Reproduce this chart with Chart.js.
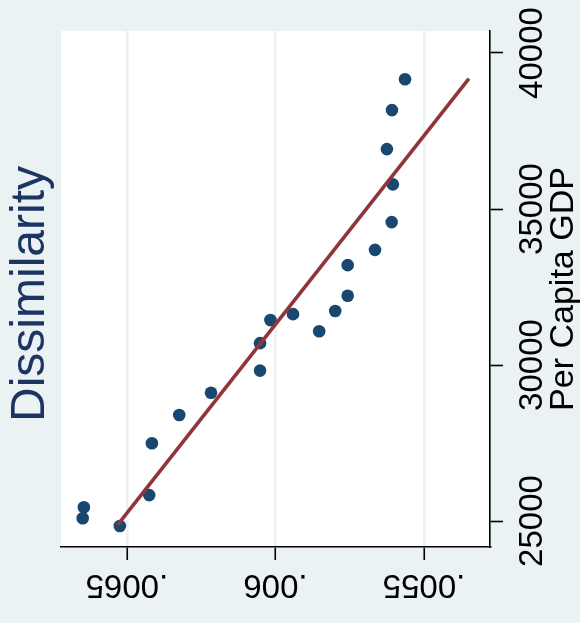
<!DOCTYPE html>
<html>
<head>
<meta charset="utf-8">
<script src="https://cdn.jsdelivr.net/npm/chart.js@4"></script>
<style>
  html, body { margin: 0; padding: 0; background: #eaf2f3; }
  canvas { display: block; }
</style>
</head>
<body>
<canvas id="gdp-chart" width="580" height="623"></canvas>
<script>
// per capita GDP and dissimilarity index, one pair per observation
const gdp = [25440, 25090, 24840, 25830, 27490, 28400, 29110, 29820, 30700, 31440,
  31630, 31080, 31730, 32220, 33200, 33690, 34580, 35790, 36920, 38170, 39160]
const dissimilarity = [.006645, .006649, .006524, .006425, .006416, .006324, .006217, .006052, .006052, .006017,
  .005941, .005853, .005799, .005757, .005757, .005665, .005609, .005605, .005625, .005608, .005564]

// ends of the fitted line
const fitGdp = [24870, 39180]
const fitDissimilarity = [.006532, .005349]

const dissTicks = [.0065, .006, .0055]
const dissTickLabels = ['.0065', '.006', '.0055']
const gdpTicks = [25000, 30000, 35000, 40000]
const gdpTickLabels = ['25000', '30000', '35000', '40000']

const navy = '#1a476f'
const maroon = '#90353b'
const bluishGray = '#eaf2f3'
const font = "'Liberation Sans', Arial, sans-serif"

const points = gdp.map((g, i) => ({ x: dissimilarity[i], y: g }))
const fitLine = fitGdp.map((g, i) => ({ x: fitDissimilarity[i], y: g }))

// labels are drawn by hand because they are turned around
const textPlugin = {
  id: 'textPlugin',
  beforeDraw(chart) {
    const { ctx, chartArea: a } = chart;
    ctx.save();
    ctx.fillStyle = bluishGray;
    ctx.fillRect(0, 0, chart.width, chart.height);
    ctx.fillStyle = '#ffffff';
    ctx.fillRect(a.left, a.top, a.right - a.left, a.bottom - a.top);
    ctx.restore();
  },
  afterDraw(chart) {
    const { ctx, chartArea: a } = chart;
    const xs = chart.scales.x;
    const ys = chart.scales.y;
    ctx.save();
    ctx.fillStyle = '#000000';
    ctx.textAlign = 'center';
    ctx.textBaseline = 'alphabetic';

    ctx.font = '33px ' + font;
    dissTicks.forEach((v, i) => {
      ctx.save();
      ctx.translate(xs.getPixelForValue(v), a.bottom + 28);
      ctx.rotate(Math.PI);
      ctx.fillText(dissTickLabels[i], 0, 0);
      ctx.restore();
    });

    ctx.font = '33px ' + font;
    gdpTicks.forEach((v, i) => {
      ctx.save();
      ctx.translate(a.right + 51.5, ys.getPixelForValue(v));
      ctx.rotate(-Math.PI / 2);
      ctx.fillText(gdpTickLabels[i], 0, 0);
      ctx.restore();
    });

    ctx.save();
    ctx.font = '34px ' + font;
    ctx.translate(a.right + 83, (a.top + a.bottom) / 2);
    ctx.rotate(-Math.PI / 2);
    ctx.fillText('Per Capita GDP', 0, 0);
    ctx.restore();

    ctx.save();
    ctx.font = '48px ' + font;
    ctx.fillStyle = '#1c3461';
    ctx.translate(44, (a.top + a.bottom) / 2 + 5);
    ctx.rotate(-Math.PI / 2);
    ctx.fillText('Dissimilarity', 0, 0);
    ctx.restore();

    ctx.restore();
  }
};

const ctx = document.getElementById('gdp-chart');

const gdpChart = new Chart(ctx, {
  type: 'scatter',
  data: {
    datasets: [{
      label: 'Fitted values',
      data: fitLine,
      showLine: true,
      borderColor: maroon,
      borderWidth: 3.6,
      pointRadius: 0,
      order: 0
    }, {
      label: 'Dissimilarity',
      data: points,
      backgroundColor: navy,
      borderColor: navy,
      pointRadius: 6.3,
      borderWidth: 0,
      order: 1
    }]
  },
  options: {
    responsive: false,
    animation: false,
    layout: {
      padding: { left: 61, top: 31, right: 77, bottom: 63 }
    },
    plugins: {
      legend: { display: false },
      tooltip: { enabled: false },
      title: { display: false }
    },
    scales: {
      x: {
        type: 'linear',
        position: 'bottom',
        reverse: true,
        min: .005278,
        max: .006722,
        afterBuildTicks: (scale) => { scale.ticks = dissTicks.map(v => ({ value: v })) },
        ticks: { display: false },
        grid: {
          color: bluishGray,
          lineWidth: 2.5,
          drawTicks: true,
          tickLength: 13,
          tickColor: '#000000',
          tickWidth: 1.6
        },
        border: { color: '#000000', width: 1.6 }
      },
      y: {
        type: 'linear',
        position: 'right',
        min: 24167,
        max: 40705,
        afterBuildTicks: (scale) => { scale.ticks = gdpTicks.map(v => ({ value: v })) },
        ticks: { display: false },
        grid: {
          drawOnChartArea: false,
          drawTicks: true,
          tickLength: 13,
          tickColor: '#000000',
          tickWidth: 1.6
        },
        border: { color: '#000000', width: 1.6 }
      }
    }
  },
  plugins: [textPlugin]
});
</script>
</body>
</html>
